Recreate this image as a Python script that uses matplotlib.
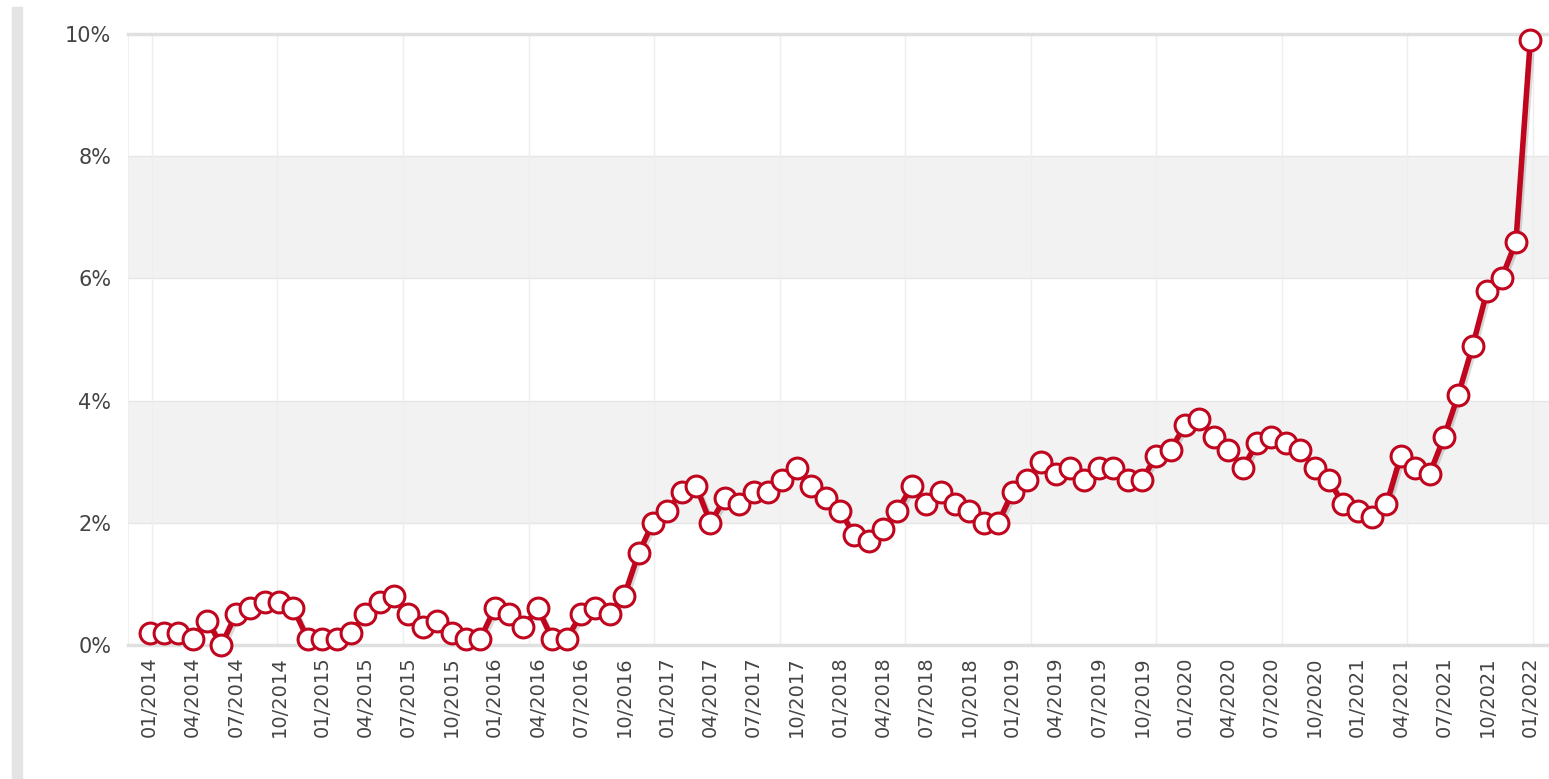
# Monthly rate chart, 01/2014 - 01/2022 (recreated)

import numpy as np
import pandas as pd
import matplotlib.pyplot as plt
import matplotlib.patheffects as pe
from matplotlib.ticker import FuncFormatter

# ────────────────────────────────────────────────────────────
# DATA
# ────────────────────────────────────────────────────────────

months = pd.date_range("2014-01-01", "2022-01-01", freq="MS")
month_labels = [d.strftime("%m/%Y") for d in months]

rate_pct = [
    0.2, 0.2, 0.2, 0.1, 0.4, 0.0, 0.5, 0.6, 0.7, 0.7, 0.6, 0.1,   # 2014
    0.1, 0.1, 0.2, 0.5, 0.7, 0.8, 0.5, 0.3, 0.4, 0.2, 0.1, 0.1,   # 2015
    0.6, 0.5, 0.3, 0.6, 0.1, 0.1, 0.5, 0.6, 0.5, 0.8, 1.5, 2.0,   # 2016
    2.2, 2.5, 2.6, 2.0, 2.4, 2.3, 2.5, 2.5, 2.7, 2.9, 2.6, 2.4,   # 2017
    2.2, 1.8, 1.7, 1.9, 2.2, 2.6, 2.3, 2.5, 2.3, 2.2, 2.0, 2.0,   # 2018
    2.5, 2.7, 3.0, 2.8, 2.9, 2.7, 2.9, 2.9, 2.7, 2.7, 3.1, 3.2,   # 2019
    3.6, 3.7, 3.4, 3.2, 2.9, 3.3, 3.4, 3.3, 3.2, 2.9, 2.7, 2.3,   # 2020
    2.2, 2.1, 2.3, 3.1, 2.9, 2.8, 3.4, 4.1, 4.9, 5.8, 6.0, 6.6,   # 2021
    9.9,                                                          # 2022
]

y_ticks = [0, 2, 4, 6, 8, 10]
bands = [(2, 4), (6, 8)]

RED = "#c0061e"
TEXT = "#444444"
GRID = "#e6e6e6"

# ────────────────────────────────────────────────────────────
# PLOT
# ────────────────────────────────────────────────────────────

x = np.arange(len(rate_pct))

fig = plt.figure(figsize=(15.49, 7.79), dpi=100)

# grey strip at the far left of the page
fig.patches.append(plt.Rectangle((0.0077, 0.0), 0.0065, 0.991,
                                 transform=fig.transFigure,
                                 color="#e4e4e4", zorder=0))

ax = fig.add_axes([0.0826, 0.172, 0.9174, 0.7843])

for lo, hi in bands:
    ax.axhspan(lo, hi, color="#f2f2f2", lw=0, zorder=0)

for yv in y_ticks:
    ax.axhline(yv, color=GRID, lw=1, zorder=1)

# vertical grid lines (not on the label ticks)
for gx in np.linspace(0.17, 96.17, 12):
    ax.axvline(gx, color="#eeeeee", lw=1, zorder=1)

ax.plot(
    x, rate_pct,
    color=RED,
    lw=4,
    solid_joinstyle="round",
    zorder=3,
    path_effects=[
        pe.SimpleLineShadow(offset=(1.5, -1.5), shadow_color="black", alpha=0.15),
        pe.Normal(),
    ],
)

ax.plot(
    x, rate_pct,
    ls="none",
    marker="o",
    ms=15,
    mfc="white",
    mec=RED,
    mew=2.2,
    zorder=4,
    clip_on=False,
)

ax.set_xlim(-1.5, 97.3)
ax.set_ylim(0, 10)

ax.set_yticks(y_ticks)
ax.yaxis.set_major_formatter(FuncFormatter(lambda v, _: f"{v:.0f}%"))

ax.set_xticks(x[::3])
ax.set_xticklabels(month_labels[::3], rotation=90, ha="center", va="top")

ax.tick_params(axis="y", length=0, pad=12, labelsize=15, labelcolor=TEXT)
ax.tick_params(axis="x", length=0, pad=8, labelsize=14, labelcolor=TEXT)

for side in ["left", "right"]:
    ax.spines[side].set_visible(False)
ax.spines["top"].set_color("#e0e0e0")
ax.spines["top"].set_linewidth(2.5)
ax.spines["bottom"].set_color("#e0e0e0")
ax.spines["bottom"].set_linewidth(2.5)

ax.axvline(-1.5, color="#eeeeee", lw=1.2, zorder=1)

plt.savefig("out.png", dpi=100)
plt.close()
